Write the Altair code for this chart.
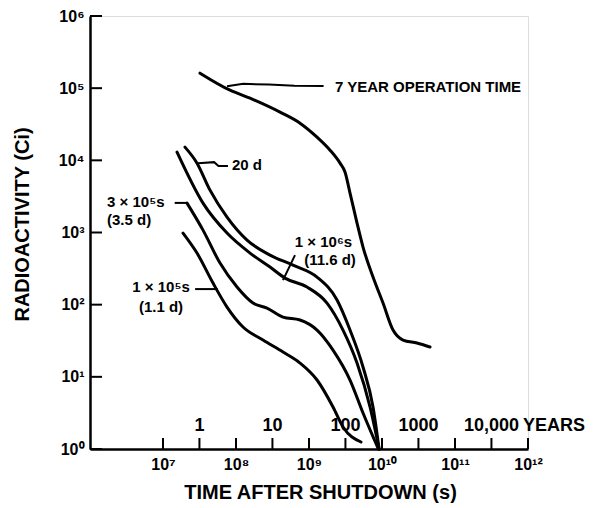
import math
import altair as alt
import pandas as pd

# ---- curve data (log10 seconds, log10 curies) ----
op7_logt = [7.507, 7.918, 8.192, 8.603, 8.877, 9.110, 9.288, 9.425, 9.493, 9.562,
            9.658, 9.740, 9.877, 10.014, 10.151, 10.288, 10.479, 10.658]
op7_logA = [5.208, 4.972, 4.861, 4.668, 4.515, 4.321, 4.141, 3.961, 3.837, 3.546,
            3.130, 2.798, 2.382, 2.022, 1.648, 1.510, 1.468, 1.413]

d20_logt = [7.301, 7.466, 7.644, 7.877, 8.151, 8.466, 8.781, 9.110, 9.384, 9.562, 9.740, 9.877, 9.96]
d20_logA = [4.183, 3.961, 3.587, 3.213, 2.895, 2.687, 2.548, 2.382, 2.064, 1.648, 1.136, 0.582, 0.0]

d116_logt = [7.192, 7.548, 7.877, 8.192, 8.466, 8.671, 8.973, 9.247, 9.466, 9.658, 9.836, 9.96]
d116_logA = [4.114, 3.407, 2.992, 2.715, 2.521, 2.368, 2.244, 2.022, 1.648, 1.191, 0.582, 0.0]

d35_logt = [7.329, 7.548, 7.781, 8.014, 8.233, 8.425, 8.644, 8.877, 9.110, 9.329, 9.562, 9.740, 9.95]
d35_logA = [3.407, 3.033, 2.576, 2.244, 2.022, 1.953, 1.828, 1.787, 1.648, 1.371, 0.956, 0.499, 0.0]

d11_logt = [7.274, 7.466, 7.685, 7.877, 8.096, 8.370, 8.644, 8.877, 9.110, 9.329, 9.466, 9.712]
d11_logA = [2.992, 2.715, 2.299, 1.967, 1.690, 1.510, 1.343, 1.191, 0.956, 0.582, 0.305, 0.097]

# ---- pointer (leader) lines ----
ptr_op7_logt = [7.877, 8.10, 8.45, 8.80, 9.20]
ptr_op7_logA = [5.028, 5.060, 5.050, 5.035, 5.030]
ptr_20_logt = [7.480, 7.700, 7.760, 7.890]
ptr_20_logA = [3.961, 3.975, 3.920, 3.920]
ptr_35_logt = [7.160, 7.329]
ptr_35_logA = [3.410, 3.410]
ptr_11_logt = [7.440, 7.750]
ptr_11_logA = [2.216, 2.216]
ptr_116_logt = [8.808, 8.644]
ptr_116_logA = [2.687, 2.341]

# ---- annotation texts ----
ann_left_text = ["7 YEAR OPERATION TIME", "20 d", "3 × 10⁵s", "(3.5 d)"]
ann_left_logt = [9.356, 7.945, 6.233, 6.233]
ann_left_logA = [5.014, 3.934, 3.421, 3.172]

ann_center_text = ["1 × 10⁵s", "(1.1 d)", "1 × 10⁶s", "(11.6 d)"]
ann_center_logt = [6.973, 6.973, 9.199, 9.288]
ann_center_logA = [2.244, 1.967, 2.867, 2.618]

# ---- year scale along the time axis ----
SECONDS_PER_YEAR = 3.156e7
year_values = [1, 10, 100, 1000, 10000]
year_labels = ["1", "10", "100", "1000", "10,000"]
year_label_A = 2.08
years_word = "YEARS"
years_word_logt = 11.93

# ---- axis ticks and labels ----
x_label_values = [1e7, 1e8, 1e9, 1e10, 1e11, 1e12]
x_tick_labels = ["10⁷", "10⁸", "10⁹", "10¹⁰", "10¹¹", "10¹²"]
y_label_values = [1, 10, 100, 1e3, 1e4, 1e5, 1e6]
y_tick_labels = ["10⁰", "10¹", "10²", "10³", "10⁴", "10⁵", "10⁶"]
x_tick_values = x_label_values + [y * SECONDS_PER_YEAR for y in year_values]

FONT = "Liberation Sans"
W, H = 438, 433

def series(name, lt, la):
    return pd.DataFrame({"s": name, "i": range(len(lt)),
                         "t": [10 ** v for v in lt], "A": [10 ** v for v in la]})

curves = pd.concat([
    series("op7", op7_logt, op7_logA),
    series("d20", d20_logt, d20_logA),
    series("d116", d116_logt, d116_logA),
    series("d35", d35_logt, d35_logA),
    series("d11", d11_logt, d11_logA),
], ignore_index=True)

pointers = pd.concat([
    series("p7", ptr_op7_logt, ptr_op7_logA),
    series("p20", ptr_20_logt, ptr_20_logA),
    series("p35", ptr_35_logt, ptr_35_logA),
    series("p11", ptr_11_logt, ptr_11_logA),
    series("p116", ptr_116_logt, ptr_116_logA),
], ignore_index=True)

# tick anchor points: x ticks sit on the bottom edge (A = 1), y ticks on the left edge (t = 1e6)
x_tick_df = pd.DataFrame({"t": x_tick_values, "A": [1.0] * len(x_tick_values)})
y_tick_df = pd.DataFrame({"t": [1e6] * len(y_label_values), "A": y_label_values})

ann_left = pd.DataFrame({"label": ann_left_text, "t": [10 ** v for v in ann_left_logt],
                         "A": [10 ** v for v in ann_left_logA]})
ann_center = pd.DataFrame({"label": ann_center_text, "t": [10 ** v for v in ann_center_logt],
                           "A": [10 ** v for v in ann_center_logA]})
years_df = pd.DataFrame({"label": year_labels, "t": [y * SECONDS_PER_YEAR for y in year_values],
                         "A": year_label_A})
years_word_df = pd.DataFrame({"label": [years_word], "t": [10 ** years_word_logt], "A": [year_label_A]})

xscale = alt.Scale(type="log", domain=[1e6, 1e12], nice=False)
yscale = alt.Scale(type="log", domain=[1, 1e6], nice=False)

def label_expr(values, labels):
    expr = "''"
    for v, l in zip(values, labels):
        k = int(round(math.log10(v)))
        expr = f"round(log(datum.value)/LN10) == {k} ? '{l}' : ({expr})"
    return expr

x_axis = alt.Axis(values=x_label_values, labelExpr=label_expr(x_label_values, x_tick_labels),
                  ticks=False, grid=False, domainColor="black", domainWidth=2.5,
                  labelFont=FONT, labelFontSize=16, labelFontWeight="bold", labelColor="black",
                  labelPadding=7, labelFlush=False, labelOverlap=False, zindex=0,
                  title="TIME AFTER SHUTDOWN (s)", titleFont=FONT, titleFontSize=20,
                  titleFontWeight="bold", titleColor="black", titleX=230, titleY=43,
                  titleBaseline="middle")
y_axis = alt.Axis(values=y_label_values, labelExpr=label_expr(y_label_values, y_tick_labels),
                  ticks=False, grid=False, domainColor="black", domainWidth=2.5,
                  labelFont=FONT, labelFontSize=16, labelFontWeight="bold", labelColor="black",
                  labelPadding=6, labelFlush=False, labelOverlap=False, zindex=0,
                  title="RADIOACTIVITY (Ci)", titleFont=FONT, titleFontSize=20,
                  titleFontWeight="bold", titleColor="black", titleX=-68, titleY=208,
                  titleBaseline="middle", titleAngle=270)

X = alt.X("t:Q", scale=xscale, axis=x_axis)
Y = alt.Y("A:Q", scale=yscale, axis=y_axis)

curve_layer = alt.Chart(curves).mark_line(color="black", strokeWidth=3, strokeCap="round",
                                          interpolate="monotone").encode(
    x=X, y=Y, detail="s:N", order="i:Q")

pointer_layer = alt.Chart(pointers).mark_line(color="black", strokeWidth=2).encode(
    x=X, y=Y, detail="s:N", order="i:Q")

# inward ticks drawn as stroked symbols anchored on the axis lines
x_tick_layer = alt.Chart(x_tick_df).mark_point(
    shape="M0,0L0,-2", size=121, filled=False, stroke="black", strokeWidth=2,
    opacity=1, strokeOpacity=1).encode(x=X, y=Y)
y_tick_layer = alt.Chart(y_tick_df).mark_point(
    shape="M0,0L2,0", size=144, filled=False, stroke="black", strokeWidth=2,
    opacity=1, strokeOpacity=1).encode(x=X, y=Y)

def text_layer(df, align, size):
    return alt.Chart(df).mark_text(align=align, baseline="middle", font=FONT, fontSize=size,
                                   fontWeight="bold", color="black").encode(
        x=X, y=Y, text="label:N")

chart = alt.layer(
    curve_layer, pointer_layer,
    text_layer(ann_left, "left", 15), text_layer(ann_center, "center", 15),
    text_layer(years_df, "center", 18), text_layer(years_word_df, "left", 18),
    x_tick_layer, y_tick_layer,
).properties(
    width=W, height=H, autosize="none",
    padding={"left": 90, "top": 16, "right": 66, "bottom": 59},
).configure_view(stroke=None).configure(background="white")

chart.save("out.html", embed_options={"renderer": "svg", "actions": False})
